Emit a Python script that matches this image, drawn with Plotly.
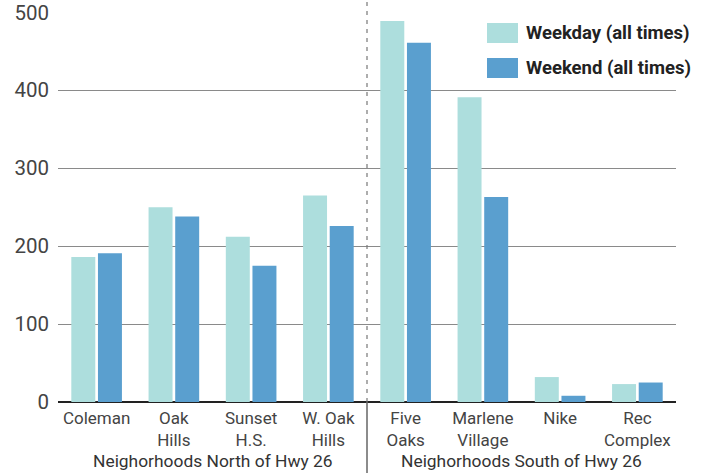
import plotly.graph_objects as go

# Neighborhood trip counts, weekday vs weekend
categories = ["Coleman", "Oak<br>Hills", "Sunset<br>H.S.", "W. Oak<br>Hills",
              "Five<br>Oaks", "Marlene<br>Village", "Nike", "Rec<br>Complex"]
weekday = [186, 250, 212, 265, 489, 391, 32, 23]
weekend = [191, 238, 175, 226, 461, 263, 8, 25]
series_names = ["Weekday (all times)", "Weekend (all times)"]
group_labels = ["Neighorhoods North of Hwy 26", "Neighorhoods South of Hwy 26"]
y_ticks = [0, 100, 200, 300, 400, 500]

light = "#addedd"
dark = "#5a9fcf"
font = "Roboto"

x = list(range(len(categories)))

fig = go.Figure()
fig.add_trace(go.Bar(x=x, y=weekday, name=series_names[0], marker_color=light,
                     marker_line_width=0))
fig.add_trace(go.Bar(x=x, y=weekend, name=series_names[1], marker_color=dark,
                     marker_line_width=0))

W, H = 709, 473
ml, mr, mt, mb = 58, 33, 12, 71
pw, ph = W - ml - mr, H - mt - mb


def px_x(v):
    return (v - ml) / pw


def px_y(v):
    return (H - mb - v) / ph


shapes = [
    # dashed divider between the two groups, running to the top edge
    dict(type="line", xref="paper", yref="paper", x0=0.5, x1=0.5, y0=0, y1=px_y(0),
         line=dict(color="#777", width=1.2, dash="4px,5px")),
    # solid divider below the axis through the group labels
    dict(type="line", xref="paper", yref="paper", x0=0.5, x1=0.5, y0=0, y1=px_y(H),
         line=dict(color="#666", width=1.5)),
]

annotations = []
for i, (name, col) in enumerate(zip(series_names, [light, dark])):
    top = 23 + i * 35
    shapes.append(dict(type="rect", xref="paper", yref="paper",
                       x0=px_x(487), x1=px_x(518), y0=px_y(top + 20), y1=px_y(top),
                       fillcolor=col, line_width=0))
    annotations.append(dict(xref="paper", yref="paper", x=px_x(524), y=px_y(top + 10),
                            xanchor="left", yanchor="middle", showarrow=False,
                            text=f"<b>{name}</b>",
                            font=dict(family=font, size=18.5, color="#222")))

for j, lab in enumerate(group_labels):
    annotations.append(dict(xref="paper", yref="paper", x=0.25 + 0.5 * j, y=px_y(461),
                            xanchor="center", yanchor="middle", showarrow=False,
                            text=lab, font=dict(family=font, size=17.4, color="#333")))

fig.update_layout(
    width=W, height=H,
    margin=dict(l=ml, r=mr, t=mt, b=mb, pad=0, autoexpand=False),
    paper_bgcolor="white", plot_bgcolor="white",
    showlegend=False,
    barmode="group", bargap=0.31, bargroupgap=0.1,
    shapes=shapes, annotations=annotations,
    xaxis=dict(
        tickmode="array", tickvals=x, ticktext=categories,
        range=[-0.5, len(categories) - 0.5], automargin=False,
        showgrid=False, showline=False, zeroline=False,
        ticks="", ticklabelstandoff=4,
        tickfont=dict(family=font, size=17, color="#444"),
    ),
    yaxis=dict(
        range=[0, 500.5], tickvals=y_ticks, automargin=False,
        showgrid=True, gridcolor="#8a8a8a", gridwidth=1,
        zeroline=True, zerolinecolor="#222", zerolinewidth=2,
        showline=False, ticks="", ticklabelstandoff=8,
        tickfont=dict(family=font, size=20.5, color="#444"),
    ),
)

fig.write_html("out.html")
